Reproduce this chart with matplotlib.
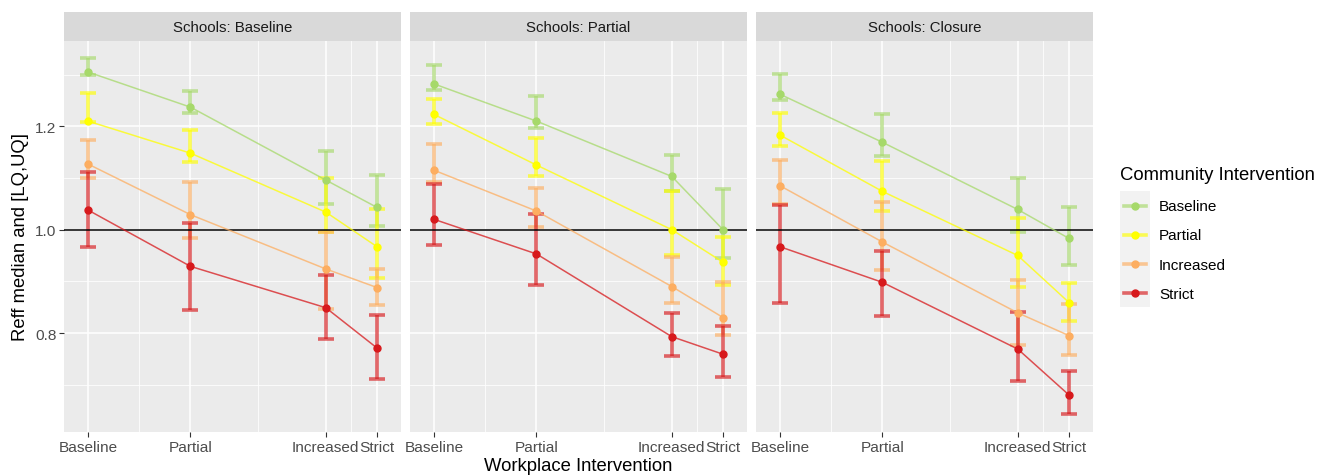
import matplotlib
matplotlib.use("Agg")
import matplotlib.pyplot as plt
import numpy as np

plt.rcParams['font.family'] = ['Liberation Sans', 'DejaVu Sans']

# workplace intervention levels (numeric position on x axis)
workplace = ['Baseline', 'Partial', 'Increased', 'Strict']
workplace_x = [0.0, 1.0, 2.32, 2.82]
community = ['Baseline', 'Partial', 'Increased', 'Strict']
colours = ['#a6d96a', '#ffff00', '#fdae61', '#d7191c']
schools = ['Schools: Baseline', 'Schools: Partial', 'Schools: Closure']

# rows = community intervention, cols = workplace intervention
med_base = [[1.305, 1.237, 1.096, 1.043],
            [1.210, 1.148, 1.034, 0.967],
            [1.127, 1.029, 0.924, 0.888],
            [1.038, 0.929, 0.849, 0.771]]
lq_base = [[1.299, 1.225, 1.050, 1.008],
           [1.208, 1.130, 0.995, 0.906],
           [1.099, 0.983, 0.846, 0.854],
           [0.966, 0.845, 0.788, 0.712]]
uq_base = [[1.332, 1.268, 1.152, 1.105],
           [1.265, 1.192, 1.100, 1.040],
           [1.174, 1.092, 0.995, 0.923],
           [1.112, 1.012, 0.912, 0.835]]

med_part = [[1.282, 1.210, 1.103, 1.000],
            [1.223, 1.125, 1.000, 0.937],
            [1.115, 1.036, 0.890, 0.830],
            [1.020, 0.953, 0.793, 0.759]]
lq_part = [[1.271, 1.196, 1.075, 0.945],
           [1.205, 1.103, 0.951, 0.892],
           [1.093, 1.006, 0.859, 0.796],
           [0.971, 0.893, 0.755, 0.715]]
uq_part = [[1.319, 1.259, 1.145, 1.079],
           [1.252, 1.177, 1.074, 0.985],
           [1.165, 1.081, 0.948, 0.899],
           [1.088, 1.030, 0.839, 0.814]]

med_clos = [[1.262, 1.169, 1.039, 0.983],
            [1.183, 1.074, 0.950, 0.859],
            [1.085, 0.976, 0.839, 0.795],
            [0.967, 0.898, 0.769, 0.680]]
lq_clos = [[1.250, 1.142, 0.996, 0.932],
           [1.162, 1.037, 0.890, 0.823],
           [1.050, 0.922, 0.777, 0.757],
           [0.859, 0.833, 0.708, 0.643]]
uq_clos = [[1.301, 1.223, 1.099, 1.044],
           [1.226, 1.132, 1.023, 0.897],
           [1.135, 1.054, 0.902, 0.857],
           [1.047, 0.958, 0.841, 0.726]]

medians = [med_base, med_part, med_clos]
lower = [lq_base, lq_part, lq_clos]
upper = [uq_base, uq_part, uq_clos]

W, H = 1325, 477
fig = plt.figure(figsize=(W / 100, H / 100), dpi=100)


def box(l, t, r, b):
    return [l / W, 1 - b / H, (r - l) / W, (b - t) / H]


lefts = [64, 410, 756]
for k, school in enumerate(schools):
    l = lefts[k]
    ax = fig.add_axes(box(l, 42, l + 337, 433))
    ax.set_facecolor('#EBEBEB')
    for s in ax.spines.values():
        s.set_visible(False)
    ax.set_xlim(-0.234, 3.054)
    ax.set_ylim(0.6085, 1.365)
    ax.set_xticks(workplace_x)
    ax.set_xticklabels(workplace)
    ax.set_xticks([0.5, 1.66, 2.57], minor=True)
    ax.set_yticks([0.8, 1.0, 1.2])
    ax.set_yticks([0.7, 0.9, 1.1, 1.3], minor=True)
    ax.grid(which='major', color='white', lw=1.1)
    ax.grid(which='minor', color='white', lw=0.55)
    ax.set_axisbelow(True)
    ax.tick_params(which='major', length=3.5, color='#333333', labelsize=11.1,
                   labelcolor='#4D4D4D', pad=2)
    ax.tick_params(which='minor', length=0)
    if k > 0:
        ax.tick_params(axis='y', which='major', length=0, labelleft=False)

    med = np.array(medians[k])
    lo = np.array(lower[k])
    hi = np.array(upper[k])
    for i, c in enumerate(colours):
        ax.errorbar(workplace_x, med[i], yerr=[med[i] - lo[i], hi[i] - med[i]],
                    fmt='none', ecolor=c, elinewidth=2.6, capsize=6, capthick=2.6,
                    alpha=0.65, zorder=2)
    ax.axhline(1.0, color='black', lw=1.1, zorder=3)
    for i, c in enumerate(colours):
        ax.plot(workplace_x, med[i], color=c, lw=1.1, alpha=0.75, zorder=4)
        ax.plot(workplace_x, med[i], 'o', color=c, ms=5, zorder=5)

    sax = fig.add_axes(box(l, 13, l + 337, 42))
    sax.set_facecolor('#D9D9D9')
    sax.set_xticks([])
    sax.set_yticks([])
    for s in sax.spines.values():
        s.set_visible(False)
    sax.text(0.5, 0.5, school, ha='center', va='center', fontsize=10.8,
             color='#1A1A1A', transform=sax.transAxes)

fig.text(578 / W, 1 - 467 / H, 'Workplace Intervention', ha='center', va='center',
         fontsize=13.3)
fig.text(21 / W, 1 - 237 / H, 'Reff median and [LQ,UQ]', ha='center', va='center',
         rotation=90, fontsize=13.3)

# legend
fig.text(1120 / W, 1 - 175 / H, 'Community Intervention', ha='left', va='center',
         fontsize=13.3)
lax = fig.add_axes(box(1120, 192, 1150, 308))
lax.set_facecolor('#F2F2F2')
lax.set_xlim(0, 1)
lax.set_ylim(len(community), 0)
lax.set_xticks([])
lax.set_yticks([])
for s in lax.spines.values():
    s.set_visible(False)
for i, (name, c) in enumerate(zip(community, colours)):
    lax.plot([0.12, 0.88], [i + 0.5, i + 0.5], color=c, lw=2.6, alpha=0.65)
    lax.plot([0.5], [i + 0.5], 'o', color=c, ms=5)
    fig.text(1159 / W, 1 - (207 + i * 29.3) / H, name, ha='left', va='center',
             fontsize=11)

fig.savefig('out.png', dpi=100)
